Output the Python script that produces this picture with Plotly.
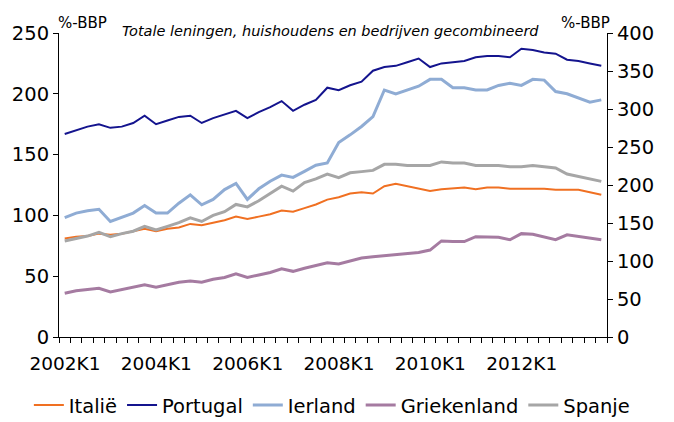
import plotly.graph_objects as go

# quarters 2002K1 .. 2013K4
kwartalen = [f"{j}K{q}" for j in range(2002, 2014) for q in range(1, 5)]

# %-BBP, left axis
italie = [81, 82.5, 83, 85, 84, 85, 87, 89,
          87, 89, 90, 93, 92, 94, 96, 99,
          97, 99, 101, 104, 103, 106, 109, 113,
          115, 118, 119, 118, 124, 126, 124, 122,
          120, 121.5, 122, 123, 121.5, 123, 123, 122,
          122, 122, 122, 121, 121, 121, 119, 117]
portugal = [167, 170, 173, 175, 172, 173, 176, 182,
            175, 178, 181, 182, 176, 180, 183, 186,
            180, 185, 189, 194, 186, 191, 195, 205,
            203, 207, 210, 219, 222, 223, 226, 229,
            222, 225, 226, 227, 230, 231, 231, 230,
            237, 236, 234, 233, 228, 227, 225, 223]
griekenland = [36, 38, 39, 40, 37, 39, 41, 43,
               41, 43, 45, 46, 45, 47.5, 49, 52,
               49, 51, 53, 56, 54, 56.5, 59, 61,
               60, 62.5, 65, 66, 67, 68, 69, 69.5,
               71.5, 79, 78.5, 78.5, 82.5, 82, 82, 80,
               85, 84.5, 82, 80, 84, 82.5, 81, 80]
spanje = [79, 81, 83, 86, 82.5, 85, 87, 91,
          88, 91, 94, 98, 95, 100, 103, 109,
          107, 112, 118, 124, 120, 127, 130, 134,
          131, 135, 136, 137, 142, 142, 141, 141,
          141, 144, 143, 143, 141, 141, 141, 140,
          140, 141, 140, 139, 134, 132, 130, 128]
# %-BBP, right axis
ierland = [157, 163, 166, 168, 152, 157, 163, 173,
           163, 163, 176, 187, 174, 181, 194, 202,
           181, 195, 205, 213, 210, 218, 226, 229,
           256, 266, 277, 290, 325, 320, 325, 330,
           339, 339, 328, 328, 325, 325, 331, 334,
           331, 339, 338, 323, 320, 314, 309, 312]

label_idx = [0, 8, 16, 24, 32, 40]

FONT = "Verdana, DejaVu Sans, sans-serif"
x = list(range(len(kwartalen)))

# tick marks sit on the boundaries between quarters, labels every 8th quarter
grens = [i - 0.5 for i in range(len(kwartalen) + 1)]
grens_tekst = [kwartalen[i] if i in label_idx else "" for i in range(len(kwartalen))] + [""]

fig = go.Figure()
series = [
    ("Italië", italie, "#F07022", 2, "y"),
    ("Portugal", portugal, "#14148E", 2, "y"),
    ("Ierland", ierland, "#8FACD4", 3, "y2"),
    ("Griekenland", griekenland, "#A57BA1", 3, "y"),
    ("Spanje", spanje, "#A6A6A6", 3, "y"),
]
for naam, vals, kleur, w, ax in series:
    fig.add_trace(go.Scatter(x=x, y=vals, name=naam, mode="lines", yaxis=ax,
                             line=dict(color=kleur, width=w),
                             text=kwartalen, hovertemplate="%{text}: %{y}<extra>" + naam + "</extra>"))

fig.update_layout(
    width=674, height=422,
    margin=dict(l=59, r=67, t=33, b=85, autoexpand=False),
    paper_bgcolor="white", plot_bgcolor="white",
    font=dict(family=FONT, color="#000000"),
    showlegend=True,
    legend=dict(orientation="h", x=-0.055, xanchor="left", y=-0.225, yanchor="middle",
                font=dict(size=19.5, family=FONT), itemwidth=30, tracegroupgap=0),
    xaxis=dict(range=[-0.5, 47.5], tickmode="array", tickvals=grens, ticktext=grens_tekst,
               ticks="outside", ticklen=5, tickcolor="black", ticklabelshift=6,
               showline=True, linecolor="black", linewidth=1, showgrid=False, zeroline=False,
               tickfont=dict(size=18.5, family=FONT), ticklabelstandoff=5),
    yaxis=dict(range=[0, 250], dtick=50, ticks="outside", ticklen=5, tickcolor="black",
               showline=True, linecolor="black", linewidth=1, showgrid=False, zeroline=False,
               tickfont=dict(size=19.5, family=FONT)),
    yaxis2=dict(range=[0, 400], dtick=50, overlaying="y", side="right", ticks="outside",
                ticklen=5, tickcolor="black", showline=True, linecolor="black", linewidth=1,
                showgrid=False, zeroline=False, tickfont=dict(size=19.5, family=FONT)),
    annotations=[
        dict(text="%-BBP", x=0.042, y=1.069, xref="paper", yref="paper", showarrow=False,
             xanchor="center", font=dict(size=15, family=FONT)),
        dict(text="%-BBP", x=0.96, y=1.069, xref="paper", yref="paper", showarrow=False,
             xanchor="center", font=dict(size=15, family=FONT)),
        dict(text="<i>Totale leningen, huishoudens en bedrijven gecombineerd</i>",
             x=0.496, y=1.039, xref="paper", yref="paper", showarrow=False,
             xanchor="center", font=dict(size=14.5, family=FONT)),
    ],
)

# page body has a default margin; drop it so the figure sits at 0,0
fig.write_html("out.html", config={"displayModeBar": False},
               post_script="document.body.style.margin='0px';")
